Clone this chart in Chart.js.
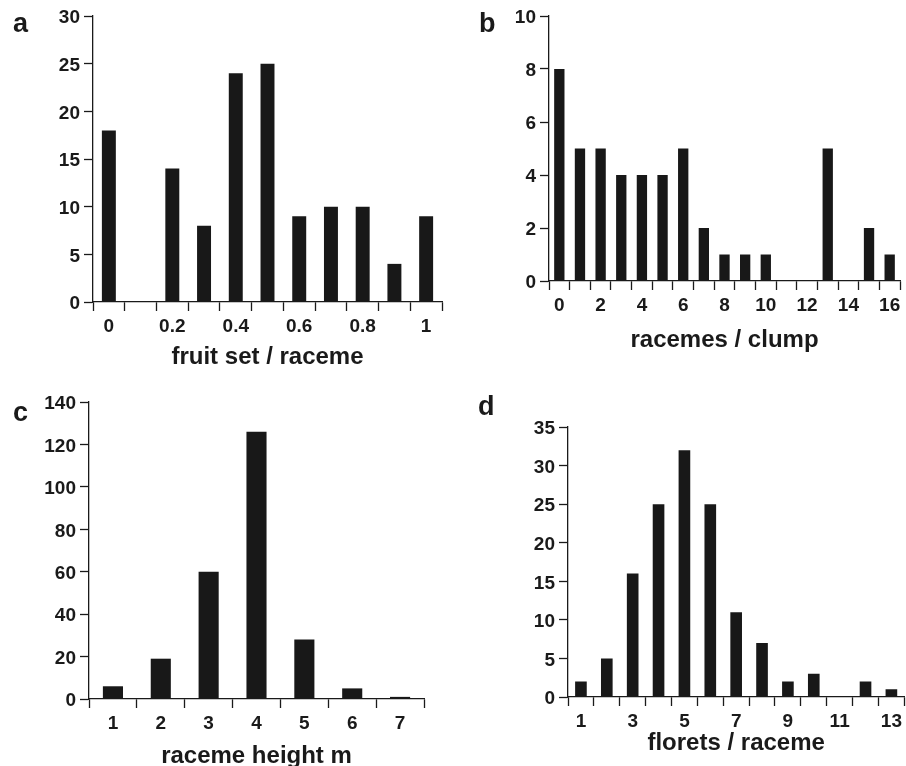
<!DOCTYPE html>
<html>
<head>
<meta charset="utf-8">
<script src="https://cdn.jsdelivr.net/npm/chart.js@4.4.1/dist/chart.umd.min.js"></script>
<style>
  html, body { margin: 0; padding: 0; background: #fff; overflow: hidden; }
  #wrap { position: relative; width: 906px; height: 766px; }
  canvas { position: absolute; }
</style>
</head>
<body>
<div id="wrap">
  <canvas id="panel-a" width="453" height="369" style="left:0;top:0"></canvas>
  <canvas id="panel-b" width="453" height="352" style="left:453px;top:0"></canvas>
  <canvas id="panel-c" width="453" height="388" style="left:0;top:380px"></canvas>
  <canvas id="panel-d" width="453" height="375" style="left:453px;top:380px"></canvas>
</div>
<script>
// a: fruit set per raceme
const fruitSetBins = ["0", "0.1", "0.2", "0.3", "0.4", "0.5", "0.6", "0.7", "0.8", "0.9", "1"];
const fruitSetCounts = [18, 0, 14, 8, 24, 25, 9, 10, 10, 4, 9];

// b: racemes per clump
const racemesBins = ["0", "1", "2", "3", "4", "5", "6", "7", "8", "9", "10", "11", "12", "13", "14", "15", "16"];
const racemesCounts = [8, 5, 5, 4, 4, 4, 5, 2, 1, 1, 1, 0, 0, 5, 0, 2, 1];

// c: raceme height (m)
const heightBins = ["1", "2", "3", "4", "5", "6", "7"];
const heightCounts = [6, 19, 60, 126, 28, 5, 1];

// d: florets per raceme
const floretBins = ["1", "2", "3", "4", "5", "6", "7", "8", "9", "10", "11", "12", "13"];
const floretCounts = [2, 5, 16, 25, 32, 25, 11, 7, 2, 3, 0, 2, 1];

const FONT = "'Liberation Sans', Arial, Helvetica, sans-serif";
const INK = "#1a1a1a";

const panelLetter = {
  id: "panelLetter",
  afterDraw(chart, args, opts) {
    const ctx = chart.ctx;
    ctx.save();
    ctx.font = "bold 27px " + FONT;
    ctx.fillStyle = INK;
    ctx.textBaseline = "alphabetic";
    ctx.fillText(opts.text, opts.x, opts.y);
    ctx.restore();
  },
};

function makePanel(id, cfg) {
  new Chart(document.getElementById(id), {
    type: "bar",
    data: {
      labels: cfg.labels,
      datasets: [
        {
          data: cfg.values,
          backgroundColor: "#181818",
          borderWidth: 0,
          barPercentage: cfg.barPct,
          categoryPercentage: 1,
        },
      ],
    },
    options: {
      responsive: false,
      animation: false,
      devicePixelRatio: 1,
      layout: { padding: { left: 0, right: cfg.padRight, top: cfg.padTop, bottom: 0 } },
      plugins: {
        legend: { display: false },
        tooltip: { enabled: false },
        panelLetter: cfg.letter,
      },
      scales: {
        x: {
          offset: true,
          grid: {
            offset: true,
            drawOnChartArea: false,
            tickLength: 9,
            tickColor: INK,
            tickWidth: 1.3,
          },
          border: { color: INK, width: 1.3 },
          ticks: {
            autoSkip: false,
            maxRotation: 0,
            padding: 4,
            color: INK,
            font: { family: FONT, size: 19, weight: "bold" },
            callback: (v, i) => (i % cfg.labelEvery === 0 ? cfg.labels[i] : ""),
          },
          title: {
            display: true,
            text: cfg.title,
            color: INK,
            padding: 0,
            font: { family: FONT, size: 24, weight: "bold", lineHeight: 1 },
          },
          afterFit: (s) => {
            s.height = cfg.xHeight;
          },
        },
        y: {
          min: 0,
          max: cfg.max,
          grid: {
            drawOnChartArea: false,
            tickLength: 9,
            tickColor: INK,
            tickWidth: 1.3,
          },
          border: { color: INK, width: 1.3 },
          ticks: {
            stepSize: cfg.step,
            padding: 4,
            labelOffset: 2,
            color: INK,
            font: { family: FONT, size: 19, weight: "bold" },
          },
          afterFit: (s) => {
            s.width = cfg.yWidth;
          },
        },
      },
    },
    plugins: [panelLetter],
  });
}

makePanel("panel-a", {
  labels: fruitSetBins,
  values: fruitSetCounts,
  title: "fruit set / raceme",
  max: 30,
  step: 5,
  labelEvery: 2,
  barPct: 0.44,
  yWidth: 93,
  xHeight: 67,
  padTop: 16,
  padRight: 11,
  letter: { text: "a", x: 13, y: 32 },
});

makePanel("panel-b", {
  labels: racemesBins,
  values: racemesCounts,
  title: "racemes / clump",
  max: 10,
  step: 2,
  labelEvery: 2,
  barPct: 0.5,
  yWidth: 96,
  xHeight: 71,
  padTop: 16,
  padRight: 6,
  letter: { text: "b", x: 26, y: 32 },
});

makePanel("panel-c", {
  labels: heightBins,
  values: heightCounts,
  title: "raceme height m",
  max: 140,
  step: 20,
  labelEvery: 1,
  barPct: 0.42,
  yWidth: 89,
  xHeight: 69,
  padTop: 22,
  padRight: 29,
  letter: { text: "c", x: 13, y: 41 },
});

makePanel("panel-d", {
  labels: floretBins,
  values: floretCounts,
  title: "florets / raceme",
  max: 35,
  step: 5,
  labelEvery: 2,
  barPct: 0.45,
  yWidth: 115,
  xHeight: 58,
  padTop: 47,
  padRight: 1,
  letter: { text: "d", x: 25, y: 35 },
});
</script>
</body>
</html>
